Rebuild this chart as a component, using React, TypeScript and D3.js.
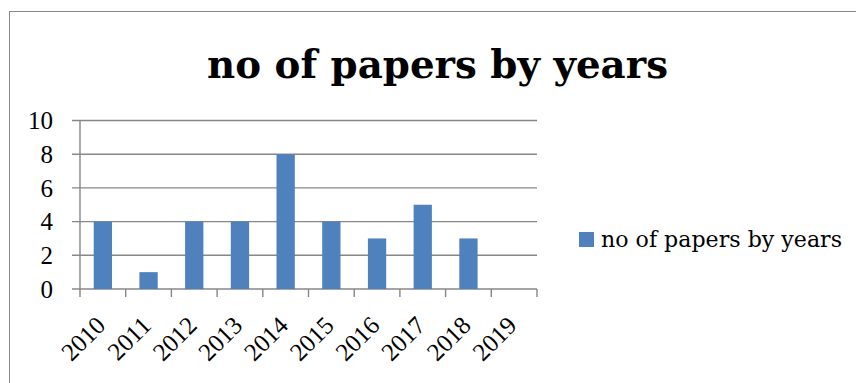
import React from "react";
import * as d3 from "d3";

const years = ["2010", "2011", "2012", "2013", "2014", "2015", "2016", "2017", "2018", "2019"];
const papers = [4, 1, 4, 4, 8, 4, 3, 5, 3, 0];
const yTicks = [0, 2, 4, 6, 8, 10];
const title = "no of papers by years";
const seriesName = "no of papers by years";

export default function App() {
  const W = 856, H = 383;
  const left = 80, right = 537, top = 120.5, bottom = 289;
  const x = d3.scaleBand<string>().domain(years).range([left, right]).paddingInner(0.6).paddingOuter(0.3);
  const xb = d3.scaleBand<string>().domain(years).range([left, right]);
  const y = d3.scaleLinear().domain([0, 10]).range([bottom, top]);
  const font = "'Liberation Serif', 'DejaVu Serif', serif";
  const font2 = "'DejaVu Serif', 'Liberation Serif', serif";
  const grid = "#878787";
  const blue = "#4F81BD";
  return (
    <svg width={W} height={H} style={{ position: "absolute", left: 0, top: 0 }} fontFamily={font}>
      <rect x={0} y={0} width={W} height={H} fill="#fff" />
      <rect x={9.5} y={11.5} width={W + 20} height={H + 20} fill="none" stroke="#888" strokeWidth={1} />
      <text x={437.5} y={78} textAnchor="middle" fontFamily={font2} fontSize={40} fontWeight="bold" textLength={461} lengthAdjust="spacingAndGlyphs" fill="#000">{title}</text>
      {yTicks.map((t) => (
        <g key={t}>
          <line x1={left - 8} x2={right} y1={y(t)} y2={y(t)} stroke={grid} strokeWidth={1.4} />
          <text x={53} y={y(t)} dy="0.35em" textAnchor="end" fontSize={25} fill="#000">{t}</text>
        </g>
      ))}
      <line x1={left} x2={left} y1={top} y2={bottom} stroke={grid} strokeWidth={1.4} />
      {years.map((yr) => (
        <line key={"t" + yr} x1={xb(yr)!} x2={xb(yr)!} y1={bottom} y2={bottom + 8} stroke={grid} strokeWidth={1.4} />
      ))}
      <line x1={right} x2={right} y1={bottom} y2={bottom + 8} stroke={grid} strokeWidth={1.4} />
      {years.map((yr, i) => (
        papers[i] > 0 ? (
          <rect key={"b" + yr} x={x(yr)!} y={y(papers[i])} width={x.bandwidth()} height={bottom - y(papers[i])} fill={blue} />
        ) : null
      ))}
      {years.map((yr) => {
        const cx = xb(yr)! + xb.bandwidth() / 2;
        return (
          <text key={"l" + yr} transform={`translate(${cx + 4},${327}) rotate(-45)`} textAnchor="end" fontSize={25} fill="#000">{yr}</text>
        );
      })}
      <rect x={579} y={232} width={15} height={15} fill={blue} />
      <text x={601} y={247} fontFamily={font2} fontSize={23} textLength={241} lengthAdjust="spacingAndGlyphs" fill="#000">{seriesName}</text>
    </svg>
  );
}
